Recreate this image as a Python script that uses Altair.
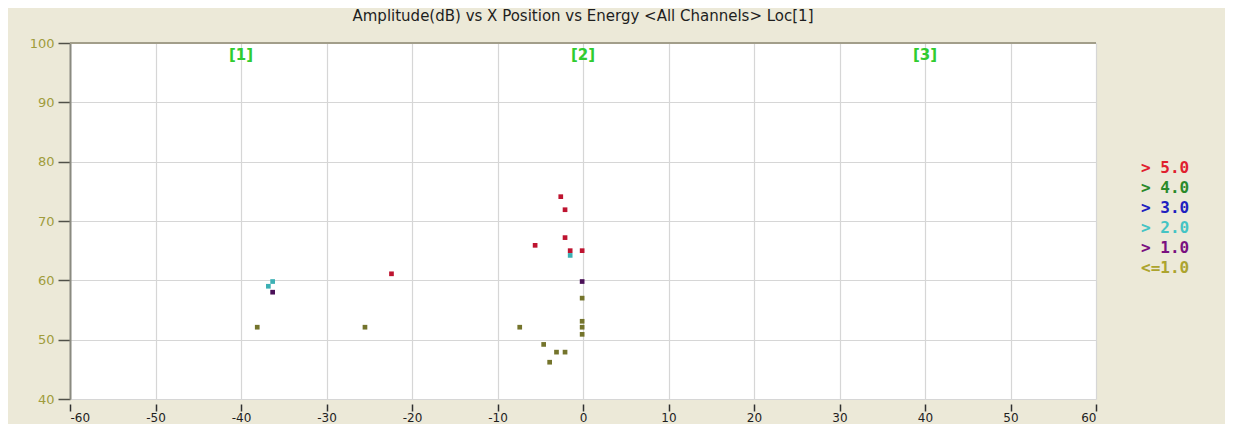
import altair as alt
import pandas as pd

# ---- data ----
x_position = [-2.6, -2.1, -2.1, -5.6, -1.5, -0.1, -1.5, -0.1, -0.1, -0.1, -0.1, -0.1,
              -7.4, -4.6, -3.1, -2.1, -3.9, -36.3, -36.8, -36.3, -38.1, -25.5, -22.4]
amplitude = [74.1, 71.9, 67.2, 65.9, 65.0, 65.0, 64.2, 59.8, 57.0, 53.1, 52.1, 50.9,
             52.1, 49.2, 47.9, 47.9, 46.2, 59.8, 59.0, 58.0, 52.1, 52.1, 61.1]
energy_class = ["> 5.0", "> 5.0", "> 5.0", "> 5.0", "> 5.0", "> 5.0", "> 2.0", "> 1.0",
                "<=1.0", "<=1.0", "<=1.0", "<=1.0", "<=1.0", "<=1.0", "<=1.0", "<=1.0",
                "<=1.0", "> 2.0", "> 2.0", "> 1.0", "<=1.0", "<=1.0", "> 5.0"]

legend_labels = ["> 5.0", "> 4.0", "> 3.0", "> 2.0", "> 1.0", "<=1.0"]
legend_colors = ["#E0202E", "#2A8A2A", "#2020C0", "#44C4C4", "#7A1080", "#ACA42E"]
point_colors = ["#BE1430", "#2A8A2A", "#2020C0", "#3CB0B4", "#4A1058", "#74742C"]

region_x = [-40, 0, 40]
region_y = [98, 98, 98]
region_labels = ["[1]", "[2]", "[3]"]

chart_title = "Amplitude(dB) vs X Position vs Energy <All Channels> Loc[1]"

x_ticks = list(range(-60, 61, 10))
y_ticks = list(range(40, 101, 10))

points = pd.DataFrame({"x": x_position, "amp": amplitude, "energy": energy_class})
regions = pd.DataFrame({"x": region_x, "y": region_y, "label": region_labels})

xscale = alt.Scale(domain=[-60, 60], nice=False, zero=False)
yscale = alt.Scale(domain=[40, 100], nice=False, zero=False)

label_color_expr = (
    "[" + ",".join("'%s'" % c for c in legend_colors) + "][indexof(["
    + ",".join("'%s'" % l for l in legend_labels) + "], datum.value)]"
)

pts = alt.Chart(points).mark_square(size=22, opacity=1).encode(
    x=alt.X("x:Q", scale=xscale,
            axis=alt.Axis(values=x_ticks, title=None, grid=True, gridColor="#D6D6D6",
                          gridWidth=1.2, domain=False, offset=5, tickSize=7,
                          tickColor="#303030", tickWidth=1.5, labelPadding=1,
                          labelExpr="'' + datum.value", labelColor="#1E1E1E",
                          labelFont="DejaVu Sans", labelFontSize=12)),
    y=alt.Y("amp:Q", scale=yscale,
            axis=alt.Axis(values=y_ticks, title=None, grid=True, gridColor="#D6D6D6",
                          gridWidth=1.2, domain=True, domainColor="#8A8A80", domainWidth=2,
                          tickSize=12, tickColor="#505048", tickWidth=1.5, labelPadding=4,
                          labelColor="#A09C3C", labelFont="DejaVu Sans", labelFontSize=13)),
    color=alt.Color("energy:N",
                    scale=alt.Scale(domain=legend_labels, range=point_colors),
                    legend=alt.Legend(title=None, orient="none", legendX=1055, legendY=117,
                                      symbolSize=0, symbolStrokeWidth=0, symbolOpacity=0,
                                      labelOffset=0, rowPadding=4,
                                      labelFont="DejaVu Sans Mono", labelFontSize=16,
                                      labelFontWeight="bold",
                                      labelColor=alt.ExprRef(label_color_expr))),
)

region_text = alt.Chart(regions).mark_text(
    font="DejaVu Sans", fontSize=15, fontWeight="bold", color="#30CC30"
).encode(
    x=alt.X("x:Q", scale=xscale),
    y=alt.Y("y:Q", scale=yscale),
    text="label:N",
)

top_border = alt.Chart(pd.DataFrame({"y": [100]})).mark_rule(
    color="#A29E8A", strokeWidth=2
).encode(y=alt.Y("y:Q", scale=yscale))

chart = alt.layer(top_border, region_text, pts).properties(
    width=1026,
    height=356,
    title=alt.TitleParams(
        text=chart_title,
        font="DejaVu Sans", fontSize=15, fontWeight="normal", color="#1E1E1E",
        anchor="middle", offset=13,
    ),
    autosize=alt.AutoSizeParams(type="none"),
    padding={"left": 62, "top": 35, "right": 129, "bottom": 25},
    background="#ECE9D8",
).configure_view(fill="white", stroke=None)

chart.save("out.html", embed_options={"renderer": "svg", "actions": False})
